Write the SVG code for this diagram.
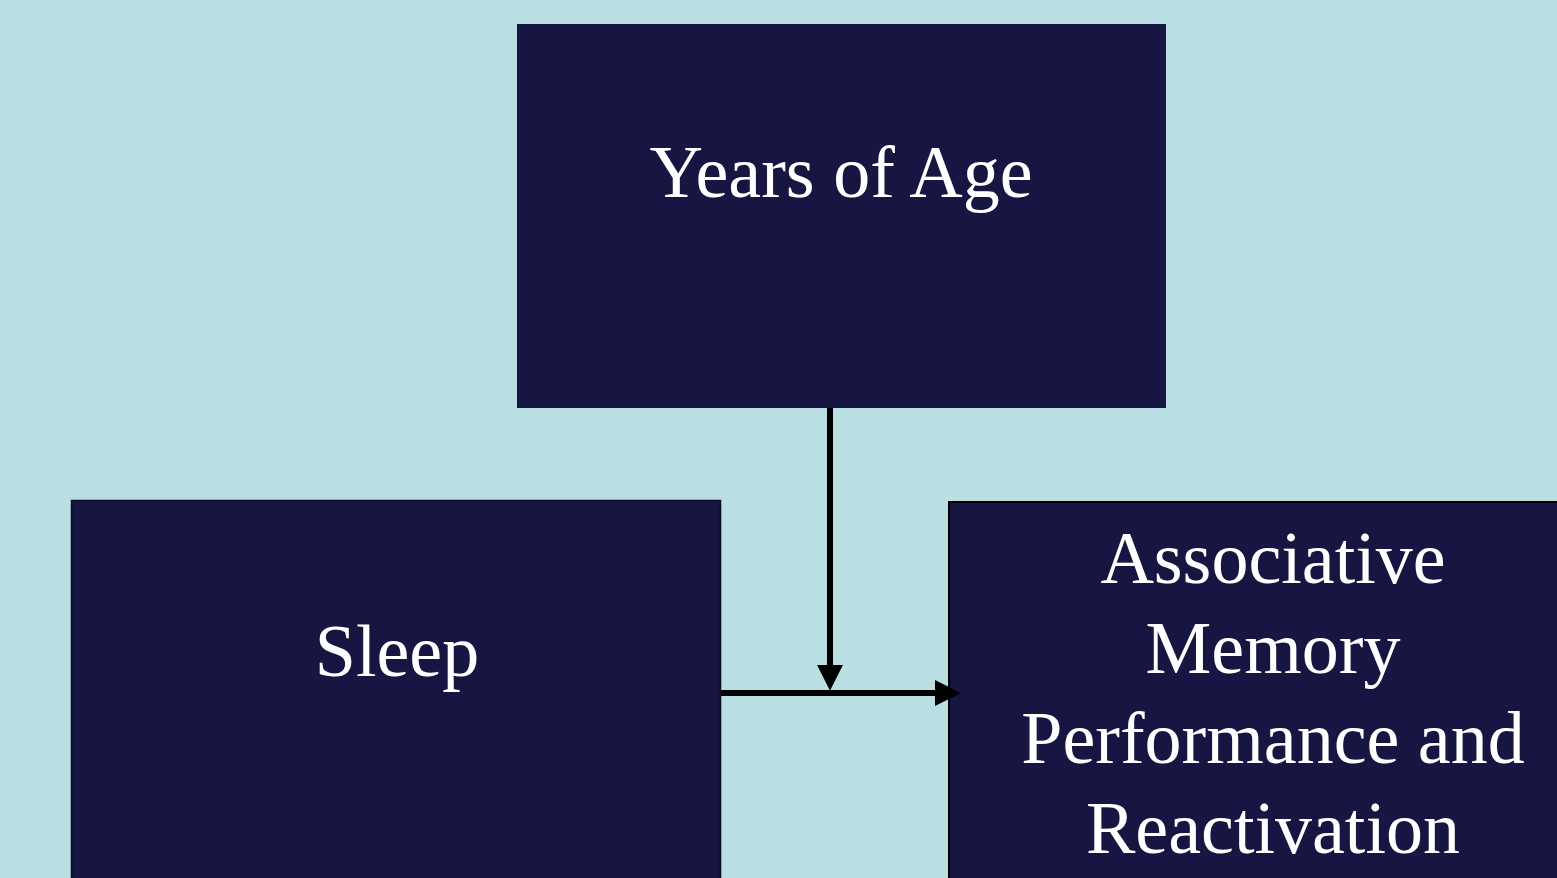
<svg xmlns="http://www.w3.org/2000/svg" width="1557" height="878" viewBox="0 0 1557 878">
<defs>
<style>
.box{fill:#171642;}
.t{font-family:"Liberation Serif","Times New Roman",serif;font-size:74px;fill:#ffffff;text-anchor:middle;}
.c{stroke:#000;stroke-width:6;fill:none;}
</style>
<marker id="ah" markerUnits="userSpaceOnUse" markerWidth="26" markerHeight="26" viewBox="0 0 24 24" refX="14" refY="12" orient="auto">
<path d="M0,0 L24,12 L0,24 Z" fill="#000"/>
</marker>
</defs>
<rect width="1557" height="878" fill="#b9dfe2"/>
<g id="age">
<rect class="box" x="517" y="24" width="649" height="384"/>
<text class="t" x="841" y="197">Years of Age</text>
</g>
<g id="sleep">
<rect class="box" x="71.5" y="500.5" width="649" height="400" stroke="#0a0a20" stroke-width="1.5"/>
<text class="t" x="397" y="676">Sleep</text>
</g>
<g id="memory">
<rect class="box" x="949" y="502" width="650" height="400" stroke="#000" stroke-width="2"/>
<text class="t" x="1273" y="583">Associative</text>
<text class="t" x="1273" y="673">Memory</text>
<text class="t" x="1273" y="763">Performance and</text>
<text class="t" x="1273" y="853">Reactivation</text>
</g>
<g id="connectors">
<path class="c" d="M721,693 L950,693" marker-end="url(#ah)"/>
<path class="c" d="M830,408 L830,680" marker-end="url(#ah)"/>
</g>
</svg>
